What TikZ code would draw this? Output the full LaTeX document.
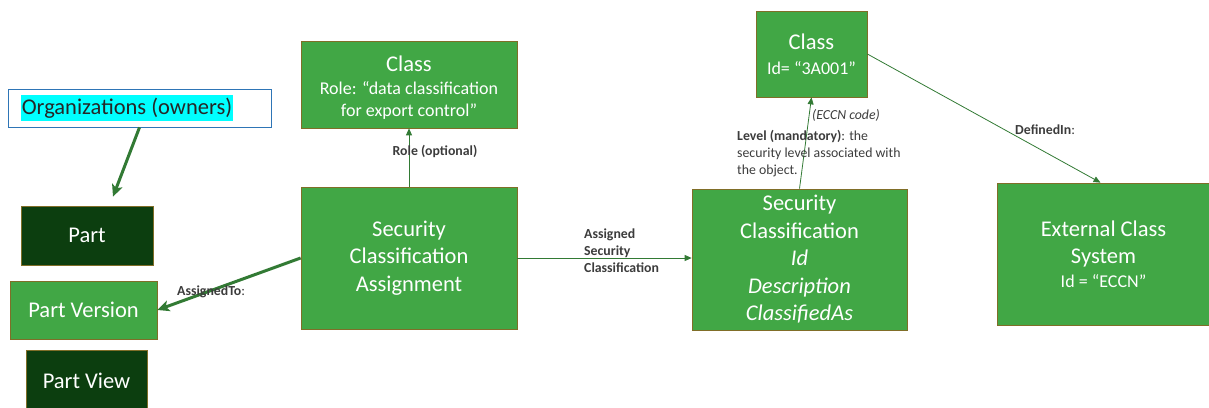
\documentclass[tikz,border=0pt]{standalone}
\usepackage{fontspec}
\setmainfont{Carlito}
\usetikzlibrary{arrows.meta,calc}

\definecolor{boxgreen}{RGB}{65,167,69}
\definecolor{darkbox}{RGB}{12,62,15}
\definecolor{boxedge}{RGB}{128,110,40}
\definecolor{linkgreen}{RGB}{50,122,52}
\definecolor{labelgray}{RGB}{60,60,60}
\definecolor{orgblue}{RGB}{46,117,182}
\definecolor{hilite}{RGB}{0,255,255}

\newcommand{\bigtxt}{\fontsize{22.5}{27.5}\selectfont}
\newcommand{\midtxt}{\fontsize{18}{22}\selectfont}
\newcommand{\lbltxt}{\fontsize{13.8}{17}\selectfont}

\begin{document}
\begin{tikzpicture}[x=1pt,y=-1pt,
  lightbox/.style={draw=boxedge, line width=0.7pt, fill=boxgreen, text=white,
    align=center, inner sep=0pt, font=\bigtxt},
  darkbox/.style={lightbox, fill=darkbox},
  thinlink/.style={draw=linkgreen, line width=0.8pt,
    -{Triangle[length=7pt,width=6pt]}},
  thicklink/.style={draw=linkgreen, line width=3pt,
    -{Stealth[length=12pt,width=11pt,inset=3pt]}},
  lbl/.style={text=labelgray, font=\lbltxt, inner sep=0pt, align=left}
]
\useasboundingbox (0,0) rectangle (1209,407);

% owner box
\node[draw=orgblue, line width=0.8pt, fill=white, minimum width=263pt,
  minimum height=38pt, inner sep=0pt] (org) at (139.5,108) {};
\node[fill=hilite, inner xsep=1pt, inner ysep=2pt, text=black!85,
  font=\fontsize{22.5}{26}\selectfont, minimum height=26pt] (orgtext) at (127,108)
  {Organizations (owners)};

% part family
\node[darkbox, minimum width=132pt, minimum height=59pt] (part) at (87,235.5) {Part};
\node[lightbox, minimum width=147pt, minimum height=58pt] (pv) at (83.5,310) {Part Version};
\node[darkbox, minimum width=121pt, minimum height=62pt] (pview) at (86.5,381) {Part View};

% assignment and its role class
\node[lightbox, minimum width=216pt, minimum height=87pt] (roleclass) at (409,84.5) {};
\node[text=white, align=center, inner sep=0pt, font=\midtxt] (roletext)
  at ([yshift=-3pt]roleclass.center)
  {{\bigtxt Class}\\[1pt]Role: “data classification\\for export control”};
\node[lightbox, minimum width=216pt, minimum height=142pt] (sca) at (409,258)
  {Security\\Classification\\Assignment};

% security classification and its class
\node[lightbox, minimum width=111pt, minimum height=86pt] (eccnclass) at (811.5,54)
  {Class\\[-3pt]{\midtxt Id= “3A001”}};
\node[lightbox, minimum width=215pt, minimum height=141pt] (sc) at (799.5,259.5)
  {Security\\Classification\\\textit{Id}\\\textit{Description}\\\textit{ClassifiedAs}};

% external class system
\node[lightbox, minimum width=213pt, minimum height=142pt] (ext) at (1103.5,254)
  {External Class\\System\\[-4pt]{\midtxt Id = “ECCN”}};

% connectors
\draw[thicklink] (org.south) -- ([xshift=26pt,yshift=9pt]part.north);
\draw[thicklink] (sca.west) -- (pv.east);
\draw[thinlink] (sca.north) -- (roleclass.south);
\draw[thinlink] (sca.east) -- (sc.west |- sca.east);
\draw[thinlink] (sc.north) -- (eccnclass.south);
\draw[thinlink] (eccnclass.east) -- ([xshift=-3pt]ext.north);

% connector labels
\node[lbl] (lrole) at (435,151) {\textbf{Role (optional)}};
\node[lbl, anchor=west] (lassigned) at (584,251)
  {\textbf{Assigned}\\\textbf{Security}\\\textbf{Classification}};
\node[lbl, anchor=west] (lassignedto) at (177,292) {\textbf{AssignedTo}:};
\node[lbl] (leccn) at (846,115) {\textit{(ECCN code)}};
\node[lbl, anchor=west] (llevel) at (737,154)
  {\textbf{Level (mandatory)}: the\\security level associated with\\the object.};
\node[lbl, anchor=west] (ldefined) at (1015,130) {\textbf{DefinedIn}:};
\end{tikzpicture}
\end{document}
